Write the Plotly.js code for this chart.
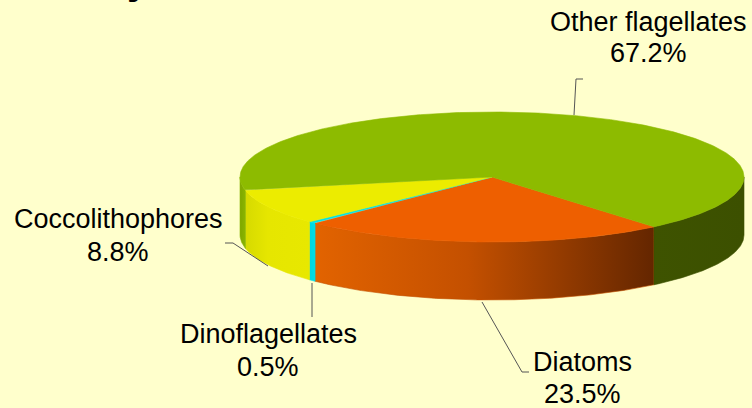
<!DOCTYPE html>
<html><head><meta charset="utf-8">
<script src="https://cdn.plot.ly/plotly-3.0.1.min.js"></script>
<style>html,body{margin:0;padding:0;background:#FFFFCC}</style>
</head><body><div id="chart" style="width:752px;height:408px"></div>
<script>
// ---- data ----
const categories = ["Diatoms", "Dinoflagellates", "Coccolithophores", "Other flagellates"];
const shares = [23.5, 0.5, 8.8, 67.2];
const pctLabels = ["23.5%", "0.5%", "8.8%", "67.2%"];
const topColors = ["#EE5F00", "#00E2EA", "#ECEC00", "#8DBB00"];

// ---- geometry / style (layout, not data) ----
const CX = 492, CY = 177, RA = 252, RB = 65, DEPTH = 58, START = 310;
const sideScales = {
  "Diatoms": [[0, "#E26300"], [0.45, "#C45000"], [1, "#642600"]],
  "Dinoflagellates": [[0, "#00D6E0"], [1, "#00DDE6"]],
  "Coccolithophores": [[0, "#D6DA00"], [0.35, "#E6E600"], [1, "#E8E800"]],
  "Other flagellates": null
};

function pt(th, dz) {
  const r = th * Math.PI / 180;
  return [CX + RA * Math.cos(r), CY - RB * Math.sin(r) + dz];
}
function arc(a0, a1, dz) {
  const xs = [], ys = [], n = Math.max(2, Math.ceil(Math.abs(a1 - a0) / 0.5));
  for (let i = 0; i <= n; i++) {
    const p = pt(a0 + (a1 - a0) * i / n, dz);
    xs.push(p[0]); ys.push(p[1]);
  }
  return [xs, ys];
}

const total = shares.reduce((s, v) => s + v, 0);
const sideTraces = [], topTraces = [];
let cum = 0;
categories.forEach((cat, i) => {
  const hi = START - cum / total * 360;
  const lo = hi - shares[i] / total * 360;
  cum += shares[i];
  // top face
  const [ax, ay] = arc(hi, lo, 0);
  topTraces.push({
    type: "scatter", mode: "lines", x: [CX, ...ax, CX], y: [CY, ...ay, CY],
    fill: "toself", fillcolor: topColors[i], line: {color: topColors[i], width: 0.6},
    hoverinfo: "skip", showlegend: false
  });
  // side faces (front half only)
  for (let k = -1; k <= 1; k++) {
    const s0 = Math.max(lo, 180 + 360 * k), s1 = Math.min(hi, 360 + 360 * k);
    if (s1 <= s0) continue;
    const [tx, ty] = arc(s0, s1, 0);
    const [bx, by] = arc(s1, s0, DEPTH);
    const tr = {
      type: "scatter", mode: "lines", x: [...tx, ...bx, tx[0]], y: [...ty, ...by, ty[0]],
      fill: "toself", hoverinfo: "skip", showlegend: false
    };
    let scale = sideScales[cat];
    if (cat === "Other flagellates") {
      scale = (s0 % 360 + 360) % 360 >= 270 || s0 < 0 ? [[0, "#3E5300"], [1, "#3C5000"]]
                                                    : [[0, "#7EA600"], [1, "#8AB500"]];
    }
    tr.fillgradient = {type: "horizontal", colorscale: scale};
    tr.line = {color: scale[Math.floor(scale.length / 2)][1], width: 0.6};
    sideTraces.push(tr);
  }
});

const font = {family: "Liberation Sans, Arial, sans-serif", size: 27, color: "#000"};
const labelPos = {
  "Other flagellates": [648, 22, 53],
  "Coccolithophores": [118, 219, 252],
  "Dinoflagellates": [268, 334, 367],
  "Diatoms": [582, 362, 394]
};
const annotations = [];
categories.forEach((cat, i) => {
  const p = labelPos[cat];
  annotations.push({x: p[0], y: p[1], xref: "x", yref: "y", text: cat, showarrow: false,
    xanchor: "center", yanchor: "middle", font: font});
  annotations.push({x: p[0], y: p[2], xref: "x", yref: "y", text: pctLabels[i], showarrow: false,
    xanchor: "center", yanchor: "middle", font: font});
});
// cropped title fragment (only the descender of its last letter shows)
annotations.push({x: 138 / 752, y: 1, xref: "paper", yref: "paper", yshift: 20, text: "<b>y</b>",
  showarrow: false, xanchor: "center", yanchor: "middle",
  font: {family: "Liberation Sans, Arial, sans-serif", size: 40, color: "#000"}});

const lineStyle = {color: "#555555", width: 1};
const shapes = [
  {type: "path", path: "M574,115 L576,79 L583,79", line: lineStyle},
  {type: "path", path: "M268,266 L233,243 L225,243", line: lineStyle},
  {type: "path", path: "M312,283 L312,317", line: lineStyle},
  {type: "path", path: "M482,302 L522,372 L529,372", line: lineStyle}
].map(s => Object.assign({xref: "x", yref: "y", layer: "above"}, s));

const layout = {
  width: 752, height: 408,
  margin: {l: 0, r: 0, t: 0, b: 0, pad: 0},
  paper_bgcolor: "#FFFFCC", plot_bgcolor: "#FFFFCC",
  xaxis: {range: [0, 752], visible: false, fixedrange: true},
  yaxis: {range: [408, 0], visible: false, fixedrange: true},
  showlegend: false, annotations: annotations, shapes: shapes
};
Plotly.newPlot("chart", [...sideTraces, ...topTraces], layout, {displayModeBar: false, staticPlot: true});
</script></body></html>
